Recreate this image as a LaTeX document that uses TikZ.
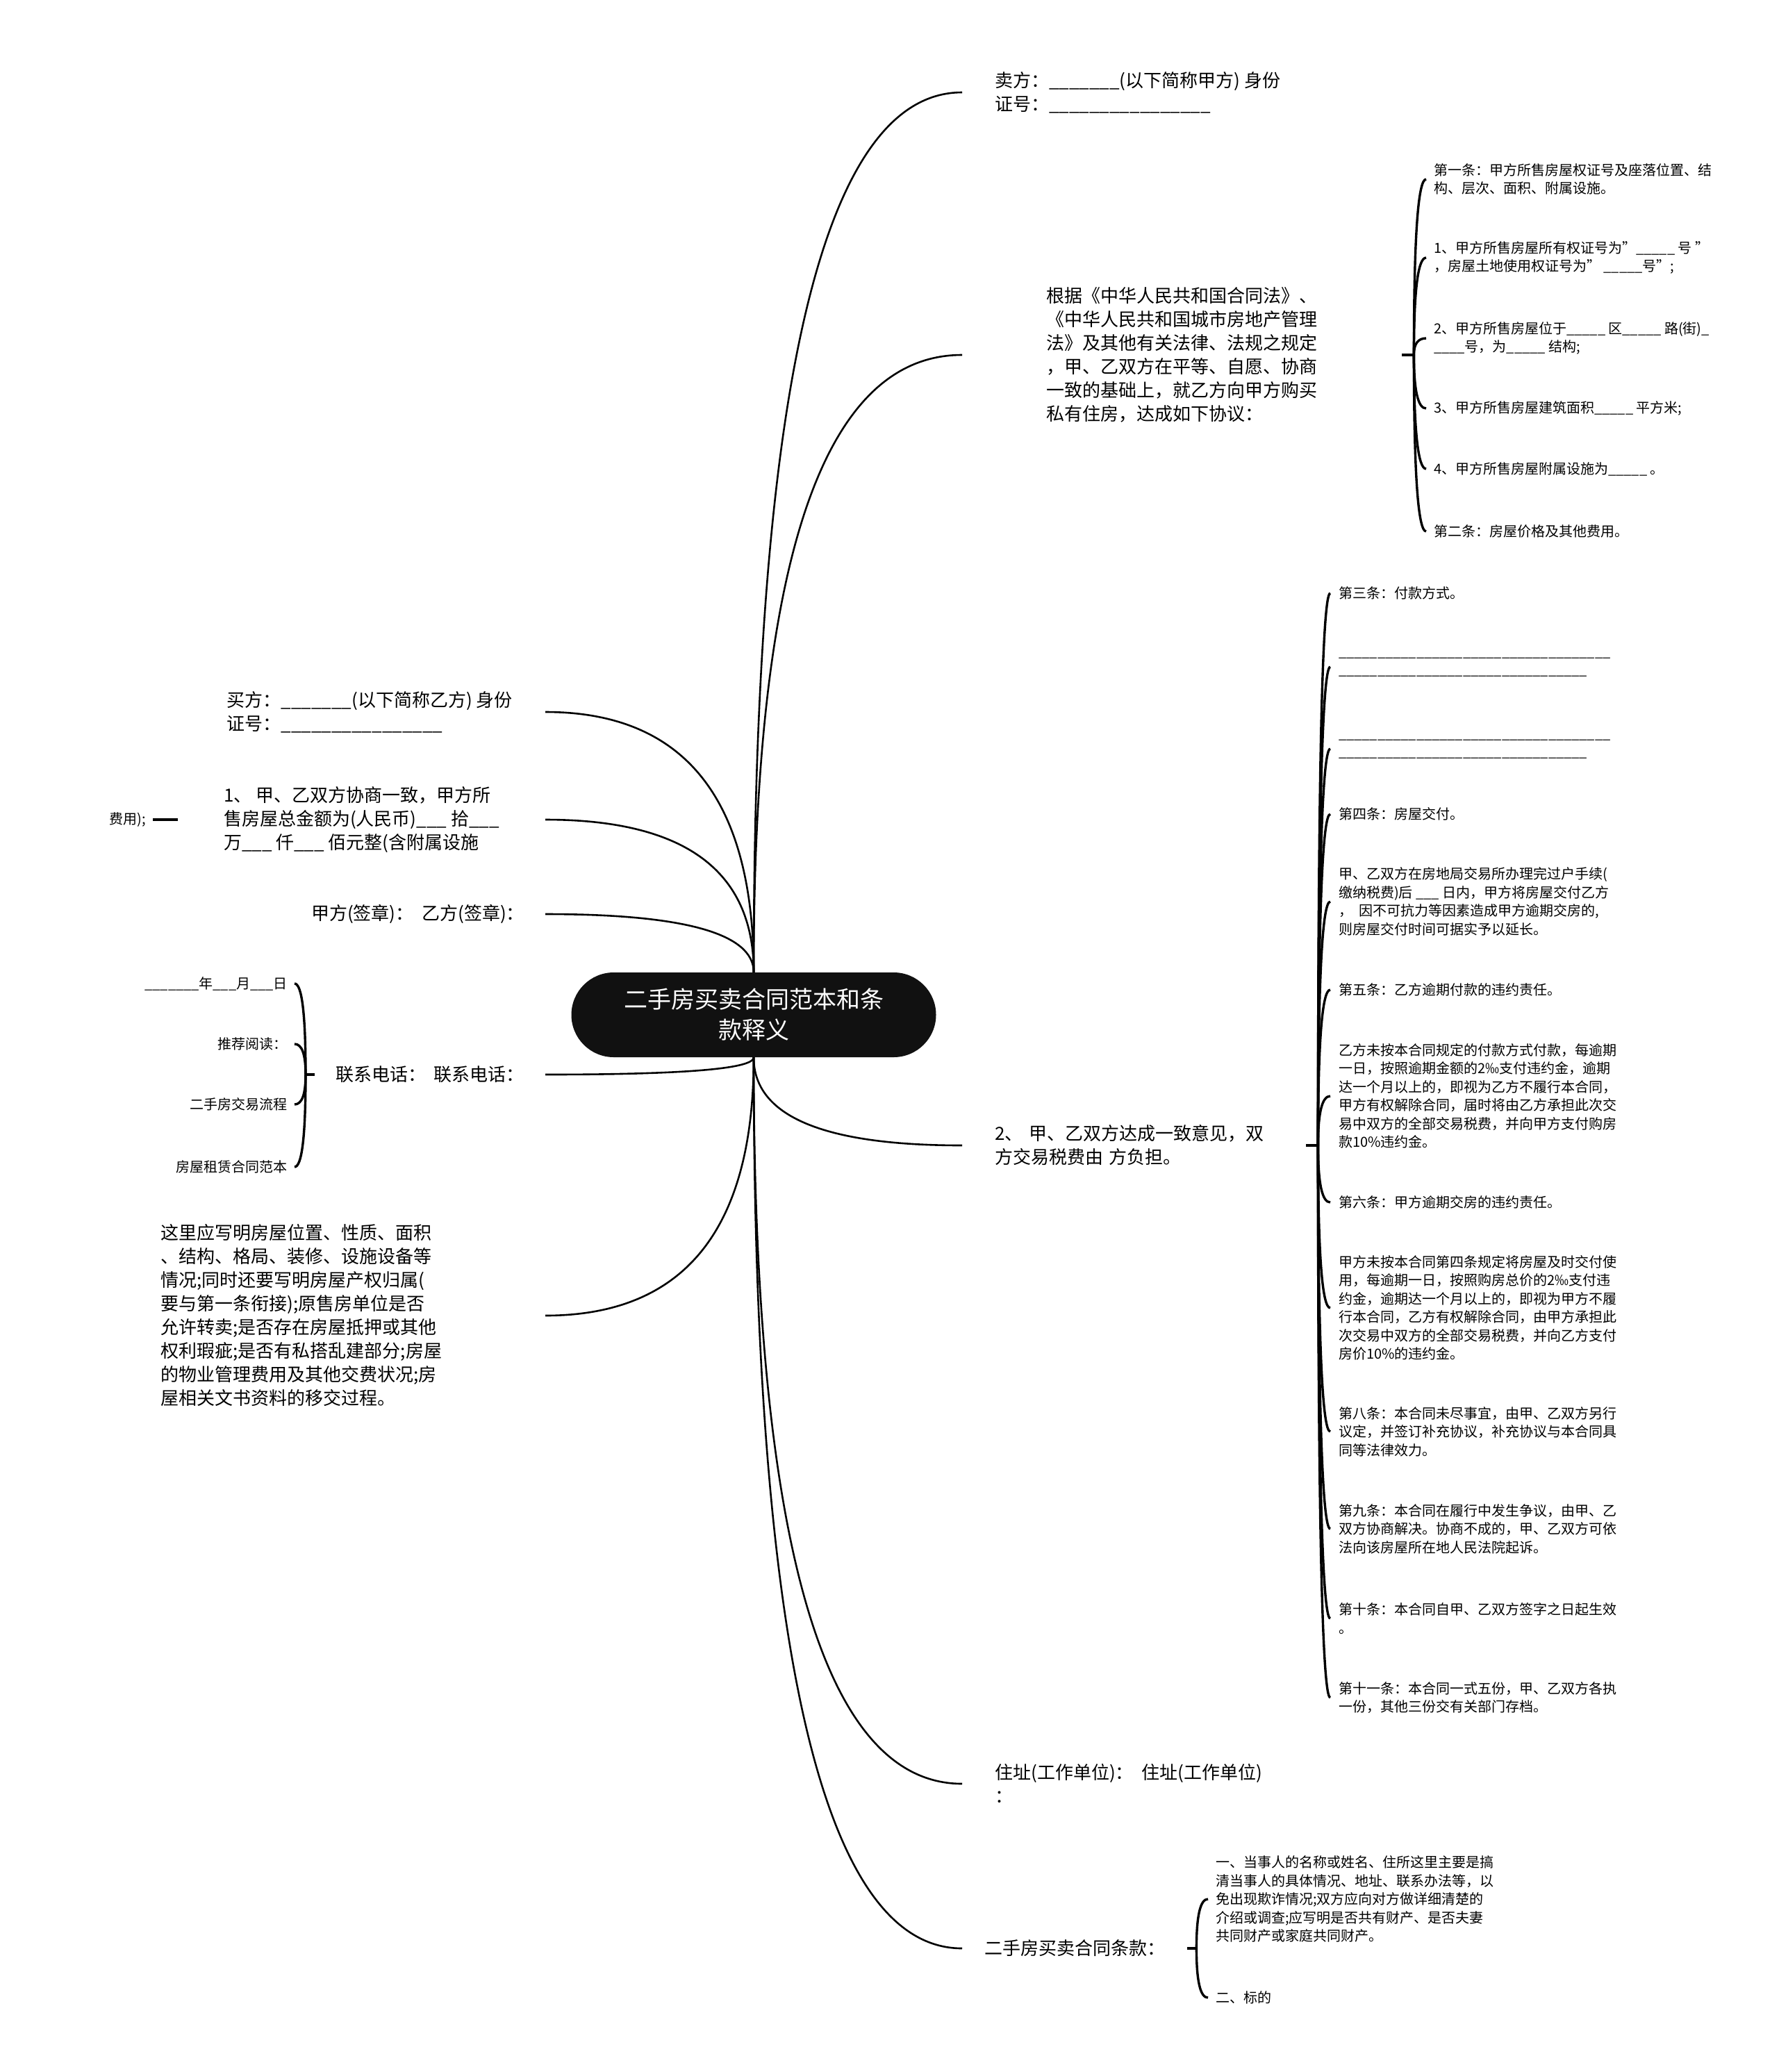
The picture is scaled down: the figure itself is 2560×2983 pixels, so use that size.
\documentclass[tikz,border=0pt]{standalone}
\usepackage{fontspec}
\setmainfont{Noto Sans CJK SC}
\usepackage{xcolor}
\usetikzlibrary{positioning,calc}

\definecolor{rootfill}{HTML}{111111}

\begin{document}
\begin{tikzpicture}[x=1pt,y=-1pt]
\tikzset{>=latex}

\tikzstyle{root}  = [rectangle, fill=rootfill, text=white, rounded corners=61pt,
                     minimum width=525pt, minimum height=122pt, align=center,
                     font=\fontsize{34}{44}\selectfont]
\tikzstyle{topic} = [align=left, inner xsep=47pt, inner ysep=4pt,
                     font=\fontsize{26}{34}\selectfont]
\tikzstyle{leaf}  = [align=left, inner xsep=11pt, inner ysep=3pt,
                     font=\fontsize{20}{26.5}\selectfont]
\tikzstyle{curve} = [to path={.. controls ($(\tikztostart)!0.667!(\tikztostart|-\tikztotarget)$)
                     and ($(\tikztotarget)!0.667!(\tikztostart|-\tikztotarget)$) .. (\tikztotarget)}]
\tikzstyle{link}  = [curve, line width=2.6pt]
\tikzstyle{brace} = [curve, line width=3.4pt]
\tikzstyle{stub}  = [line width=3.4pt]

\useasboundingbox (0,0) rectangle (2560,2983);

\node[root] (MM) at (1085,1461) {二手房买卖合同范本和条\\款释义};

\node[topic,anchor=west] (SEL) at (1385,133)
  {卖方：\_\_\_\_\_\_\_(以下简称甲方) 身份\\证号：\_\_\_\_\_\_\_\_\_\_\_\_\_\_\_\_};
\node[topic,anchor=west,inner xsep=0pt,minimum width=633pt] (LAW) at (1385,511)
  {根据《中华人民共和国合同法》、\\《中华人民共和国城市房地产管理\\法》及其他有关法律、法规之规定\\，甲、乙双方在平等、自愿、协商\\一致的基础上，就乙方向甲方购买\\私有住房，达成如下协议：};
\node[topic,anchor=west,text width=401pt] (TAX) at (1385,1649)
  {2、 甲、乙双方达成一致意见，双\\方交易税费由 方负担。};
\node[topic,anchor=west] (ADDR) at (1385,2568) {住址(工作单位)：\ \ 住址(工作单位)\\：};
\node[topic,anchor=west,inner xsep=32pt] (TERM) at (1385,2805) {二手房买卖合同条款：};

\node[topic,anchor=east] (BUY) at (785,1025)
  {买方：\_\_\_\_\_\_\_(以下简称乙方) 身份\\证号：\_\_\_\_\_\_\_\_\_\_\_\_\_\_\_\_};
\node[topic,anchor=east,inner xsep=0pt,minimum width=529pt] (PRICE) at (785,1180)
  {1、 甲、乙双方协商一致，甲方所\\售房屋总金额为(人民币)\_\_\_ 拾\_\_\_\\万\_\_\_ 仟\_\_\_ 佰元整(含附属设施};
\node[topic,anchor=east,inner xsep=30pt] (SIGN) at (785,1316) {甲方(签章)：\ \ 乙方(签章)：};
\node[topic,anchor=east,inner xsep=30pt] (TEL) at (785,1547) {联系电话：\ \ 联系电话：};
\node[topic,anchor=east,inner xsep=0pt,minimum width=702pt] (NOTE) at (785,1894)
  {这里应写明房屋位置、性质、面积\\、结构、格局、装修、设施设备等\\情况;同时还要写明房屋产权归属(\\要与第一条衔接);原售房单位是否\\允许转卖;是否存在房屋抵押或其他\\权利瑕疵;是否有私搭乱建部分;房屋\\的物业管理费用及其他交费状况;房\\屋相关文书资料的移交过程。};

\node[leaf,anchor=west] (L1) at (2053,258) {第一条：甲方所售房屋权证号及座落位置、结\\构、层次、面积、附属设施。};
\node[leaf,anchor=west] (L2) at (2053,371) {1、甲方所售房屋所有权证号为"\_\_\_\_\_ 号 ”\\，房屋土地使用权证号为” \_\_\_\_\_号";};
\node[leaf,anchor=west] (L3) at (2053,487) {2、甲方所售房屋位于\_\_\_\_\_ 区\_\_\_\_\_ 路(街)\_\\\_\_\_\_号，为\_\_\_\_\_ 结构;};
\node[leaf,anchor=west] (L4) at (2053,588) {3、甲方所售房屋建筑面积\_\_\_\_\_ 平方米;};
\node[leaf,anchor=west] (L5) at (2053,675) {4、甲方所售房屋附属设施为\_\_\_\_\_ 。};
\node[leaf,anchor=west] (L6) at (2053,765) {第二条：房屋价格及其他费用。};

\node[leaf,anchor=west,inner xsep=12pt] (X1) at (1915,854) {第三条：付款方式。};
\node[leaf,anchor=west,inner xsep=12pt] (X2) at (1915,960) {\_\_\_\_\_\_\_\_\_\_\_\_\_\_\_\_\_\_\_\_\_\_\_\_\_\_\_\_\_\_\_\_\_\_\_\\\_\_\_\_\_\_\_\_\_\_\_\_\_\_\_\_\_\_\_\_\_\_\_\_\_\_\_\_\_\_\_\_};
\node[leaf,anchor=west,inner xsep=12pt] (X3) at (1915,1078) {\_\_\_\_\_\_\_\_\_\_\_\_\_\_\_\_\_\_\_\_\_\_\_\_\_\_\_\_\_\_\_\_\_\_\_\\\_\_\_\_\_\_\_\_\_\_\_\_\_\_\_\_\_\_\_\_\_\_\_\_\_\_\_\_\_\_\_\_};
\node[leaf,anchor=west,inner xsep=12pt] (X4) at (1915,1172) {第四条：房屋交付。};
\node[leaf,anchor=west,inner xsep=12pt] (X5) at (1915,1298) {甲、乙双方在房地局交易所办理完过户手续(\\缴纳税费)后 \_\_\_ 日内，甲方将房屋交付乙方\\，\ \ 因不可抗力等因素造成甲方逾期交房的,\\则房屋交付时间可据实予以延长。};
\node[leaf,anchor=west,inner xsep=12pt] (X6) at (1915,1425) {第五条：乙方逾期付款的违约责任。};
\node[leaf,anchor=west,inner xsep=12pt] (X7) at (1915,1578) {乙方未按本合同规定的付款方式付款，每逾期\\一日，按照逾期金额的2‰支付违约金，逾期\\达一个月以上的，即视为乙方不履行本合同，\\甲方有权解除合同，届时将由乙方承担此次交\\易中双方的全部交易税费，并向甲方支付购房\\款10\%违约金。};
\node[leaf,anchor=west,inner xsep=12pt] (X8) at (1915,1731) {第六条：甲方逾期交房的违约责任。};
\node[leaf,anchor=west,inner xsep=12pt] (X9) at (1915,1883) {甲方未按本合同第四条规定将房屋及时交付使\\用，每逾期一日，按照购房总价的2‰支付违\\约金，逾期达一个月以上的，即视为甲方不履\\行本合同，乙方有权解除合同，由甲方承担此\\次交易中双方的全部交易税费，并向乙方支付\\房价10\%的违约金。};
\node[leaf,anchor=west,inner xsep=12pt] (X10) at (1915,2061) {第八条：本合同未尽事宜，由甲、乙双方另行\\议定，并签订补充协议，补充协议与本合同具\\同等法律效力。};
\node[leaf,anchor=west,inner xsep=12pt] (X11) at (1915,2201) {第九条：本合同在履行中发生争议，由甲、乙\\双方协商解决。协商不成的，甲、乙双方可依\\法向该房屋所在地人民法院起诉。};
\node[leaf,anchor=west,inner xsep=12pt] (X12) at (1915,2330) {第十条：本合同自甲、乙双方签字之日起生效\\。};
\node[leaf,anchor=west,inner xsep=12pt] (X13) at (1915,2444) {第十一条：本合同一式五份，甲、乙双方各执\\一份，其他三份交有关部门存档。};

\node[leaf,anchor=west] (T1) at (1739,2734) {一、当事人的名称或姓名、住所这里主要是搞\\清当事人的具体情况、地址、联系办法等，以\\免出现欺诈情况;双方应向对方做详细清楚的\\介绍或调查;应写明是否共有财产、是否夫妻\\共同财产或家庭共同财产。};
\node[leaf,anchor=west] (T2) at (1739,2876) {二、标的};

\node[leaf,anchor=east,inner xsep=10pt] (D1) at (424,1416) {\_\_\_\_\_\_\_年\_\_\_月\_\_\_日};
\node[leaf,anchor=east,inner xsep=10pt] (D2) at (424,1503) {推荐阅读：};
\node[leaf,anchor=east,inner xsep=10pt] (D3) at (424,1590) {二手房交易流程};
\node[leaf,anchor=east,inner xsep=10pt] (D4) at (424,1680) {房屋租赁合同范本};

\node[leaf,anchor=east,inner xsep=10pt] (FEE) at (220,1180) {费用);};

\coordinate (LAWj)  at ([xshift=17pt]LAW.east);
\coordinate (TAXj)  at ([xshift=17pt]TAX.east);
\coordinate (TERMj) at ([xshift=13pt]TERM.east);
\coordinate (TELj)  at ([xshift=-13pt]TEL.west);

\draw[link] (MM.north) to (SEL.west);
\draw[link] (MM.north) to (LAW.west);
\draw[link] (MM.south) to (TAX.west);
\draw[link] (MM.south) to (ADDR.west);
\draw[link] (MM.south) to (TERM.west);
\draw[link] (MM.north) to (BUY.east);
\draw[link] (MM.north) to (PRICE.east);
\draw[link] (MM.north) to (SIGN.east);
\draw[link] (MM.south) to (TEL.east);
\draw[link] (MM.south) to (NOTE.east);

\draw[stub] (LAW.east) -- (LAWj);
\draw[brace] (LAWj) to (L1.west);
\draw[brace] (LAWj) to (L2.west);
\draw[brace] (LAWj) to (L3.west);
\draw[brace] (LAWj) to (L4.west);
\draw[brace] (LAWj) to (L5.west);
\draw[brace] (LAWj) to (L6.west);

\draw[stub] (TAX.east) -- (TAXj);
\draw[brace] (TAXj) to (X1.west);
\draw[brace] (TAXj) to (X2.west);
\draw[brace] (TAXj) to (X3.west);
\draw[brace] (TAXj) to (X4.west);
\draw[brace] (TAXj) to (X5.west);
\draw[brace] (TAXj) to (X6.west);
\draw[brace] (TAXj) to (X7.west);
\draw[brace] (TAXj) to (X8.west);
\draw[brace] (TAXj) to (X9.west);
\draw[brace] (TAXj) to (X10.west);
\draw[brace] (TAXj) to (X11.west);
\draw[brace] (TAXj) to (X12.west);
\draw[brace] (TAXj) to (X13.west);

\draw[stub] (TERM.east) -- (TERMj);
\draw[brace] (TERMj) to (T1.west);
\draw[brace] (TERMj) to (T2.west);

\draw[stub] (TEL.west) -- (TELj);
\draw[brace] (TELj) to (D1.east);
\draw[brace] (TELj) to (D2.east);
\draw[brace] (TELj) to (D3.east);
\draw[brace] (TELj) to (D4.east);

\draw[stub] (PRICE.west) -- (FEE.east);

\end{tikzpicture}
\end{document}
